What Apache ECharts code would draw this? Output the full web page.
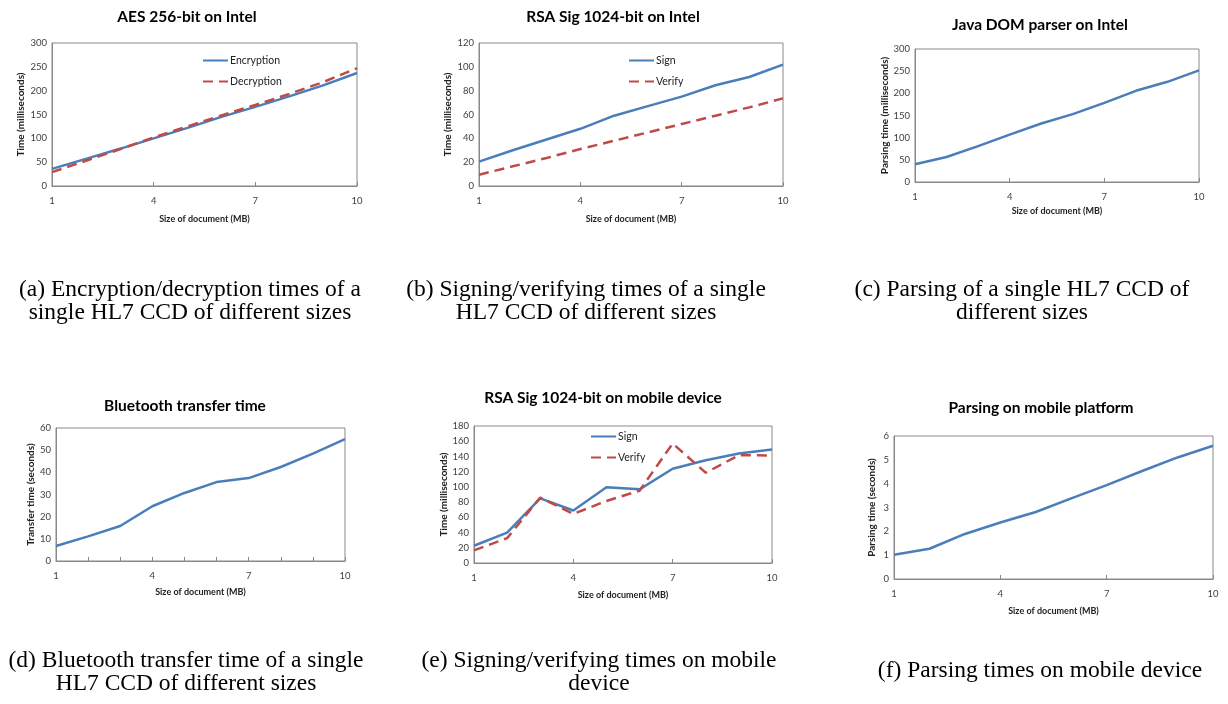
<!DOCTYPE html>
<html><head><meta charset="utf-8">
<script src="https://cdn.jsdelivr.net/npm/echarts@6/dist/echarts.min.js"></script>
<style>html,body{margin:0;padding:0;background:#fff}#c{width:1228px;height:704px}</style>
</head><body><div id="c"></div>
<script>
// ---- data ----
const sizes = ['1','2','3','4','5','6','7','8','9','10'];
const aesEncryption = [36, 57, 78, 100, 122, 145, 166, 188, 211, 237];
const aesDecryption = [29, 53, 77, 102, 125, 148, 170, 193, 218, 247];
const rsaIntelSign   = [20.5, 30, 39, 48, 59, 67, 75, 84.5, 91.5, 101.8];
const rsaIntelVerify = [9.5, 16.5, 23.5, 31, 38, 45, 52, 59, 66, 73.5];
const domParseIntel  = [40, 56.5, 81, 107, 132, 153, 178.6, 205.7, 226, 251.7];
const bluetoothTime  = [6.8, 11.1, 15.8, 24.7, 30.7, 35.6, 37.4, 42.4, 48.4, 55];
const rsaMobileSign   = [22.7, 40, 85, 69, 99.4, 96.8, 123.8, 135, 143.9, 149];
const rsaMobileVerify = [16.6, 32.7, 85.9, 64.5, 81.5, 95, 157, 118.6, 141.7, 141.2];
const parseMobile    = [1.02, 1.27, 1.89, 2.37, 2.81, 3.38, 3.94, 4.53, 5.1, 5.59];

const chartTitles = ['AES 256-bit on Intel','RSA Sig 1024-bit on Intel','Java DOM parser on Intel',
  'Bluetooth transfer time','RSA Sig 1024-bit on mobile device','Parsing on mobile platform'];
const yNames = ['Time (milliseconds)','Time (milliseconds)','Parsing time (milliseconds)',
  'Transfer time (seconds)','Time (milliseconds)','Parsing time (seconds)'];
const xName = 'Size of document (MB)';
const yMax = [300, 120, 300, 60, 180, 6];
const yStep = [50, 20, 50, 10, 20, 1];
const captions = [
  ['(a) Encryption/decryption times of a','single HL7 CCD of different sizes'],
  ['(b) Signing/verifying times of a single','HL7 CCD of different sizes'],
  ['(c) Parsing of a single HL7 CCD of','different sizes'],
  ['(d) Bluetooth transfer time of a single','HL7 CCD of different sizes'],
  ['(e) Signing/verifying times on mobile','device'],
  ['(f) Parsing times on mobile device']
];

// ---- layout ----
const panels = [
  {left:52, top:43, width:305, height:143, tx:187, ty:17, yGap:26, xGap:29, tick:2, cx:190, cy:[290,313]},
  {left:479, top:43, width:304, height:143, tx:613, ty:17, yGap:26, xGap:29, tick:2, cx:586, cy:[290,313]},
  {left:915, top:49, width:284, height:133, tx:1040, ty:25, yGap:25, xGap:25, tick:2, cx:1022, cy:[290,313]},
  {left:56, top:428, width:289, height:133, tx:185, ty:406, yGap:20, xGap:27, tick:0, cx:186, cy:[661,684]},
  {left:474, top:426, width:298, height:137, tx:603, ty:398, yGap:23, xGap:28, tick:2, cx:599, cy:[661,684]},
  {left:894, top:436, width:319, height:143, tx:1041, ty:408, yGap:17, xGap:28, tick:2, cx:1040, cy:[671]}
];

const BLUE = '#4A7EBB', RED = '#BE4B48', AXIS = '#898989';
const FONT = 'Lato';

const grid = [], xAxis = [], yAxis = [], graphic = [];
panels.forEach((p, i) => {
  grid.push({left:p.left, top:p.top, width:p.width, height:p.height, show:true,
    borderColor:AXIS, borderWidth:1, backgroundColor:'transparent', containLabel:false});
  xAxis.push({type:'category', gridIndex:i, data:sizes, boundaryGap:false,
    axisLine:{lineStyle:{color:AXIS, width:1}},
    axisTick:{show:true, inside:true, length:4, interval:p.tick, lineStyle:{color:AXIS}},
    axisLabel:{interval:2, margin:10, fontFamily:FONT, fontSize:9.5, color:'#404040'},
    name:xName, nameLocation:'middle', nameGap:p.xGap,
    nameTextStyle:{fontFamily:FONT, fontWeight:'bold', fontSize:9, color:'#222'},
    splitLine:{show:false}});
  yAxis.push({type:'value', gridIndex:i, min:0, max:yMax[i], interval:yStep[i],
    axisLine:{show:true, lineStyle:{color:AXIS, width:1}},
    axisTick:{show:false},
    axisLabel:{margin:5, fontFamily:FONT, fontSize:9.5, color:'#404040'},
    splitLine:{show:false},
    name:yNames[i], nameLocation:'middle', nameRotate:90, nameGap:p.yGap,
    nameTextStyle:{fontFamily:FONT, fontWeight:'bold', fontSize:10, color:'#222'}});
  graphic.push({type:'text', x:p.tx, y:p.ty,
    style:{text:chartTitles[i], align:'center', verticalAlign:'middle',
      fontFamily:FONT, fontWeight:'bold', fontSize:15.5, fill:'#000'}});
  captions[i].forEach((line, k) => {
    graphic.push({type:'text', x:p.cx, y:p.cy[k],
      style:{text:line, align:'center', verticalAlign:'middle',
        fontFamily:'Liberation Serif', fontSize:23.5, fill:'#000'}});
  });
});

function line(name, data, idx, color, dashed) {
  return {type:'line', name:name, xAxisIndex:idx, yAxisIndex:idx, data:data,
    symbol:'none', smooth:false, silent:true,
    lineStyle:{color:color, width:2.5, type: dashed ? [10,6] : 'solid'},
    itemStyle:{color:color}};
}

const series = [
  line('Encryption', aesEncryption, 0, BLUE, false),
  line('Decryption', aesDecryption, 0, RED, true),
  line('Sign', rsaIntelSign, 1, BLUE, false),
  line('Verify', rsaIntelVerify, 1, RED, true),
  line('DOM parsing', domParseIntel, 2, BLUE, false),
  line('Bluetooth', bluetoothTime, 3, BLUE, false),
  line('Sign', rsaMobileSign, 4, BLUE, false),
  line('Verify', rsaMobileVerify, 4, RED, true),
  line('Mobile parsing', parseMobile, 5, BLUE, false)
];

function legend(names, left, top) {
  return {orient:'vertical', left:left, top:top, padding:0, itemGap:10,
    itemWidth:25, itemHeight:10, data:names, selectedMode:false,
    itemStyle:{opacity:0},
    textStyle:{fontFamily:FONT, fontSize:10.5, color:'#222', padding:[0,0,0,-3]}};
}

const chart = echarts.init(document.getElementById('c'), null, {renderer:'canvas'});
chart.setOption({
  backgroundColor:'#fff',
  animation:false,
  grid, xAxis, yAxis, series, graphic,
  legend:[
    legend(['Encryption','Decryption'], 202, 55),
    legend(['Sign','Verify'], 628, 55),
    legend(['Sign','Verify'], 590, 431)
  ]
});
</script></body></html>
